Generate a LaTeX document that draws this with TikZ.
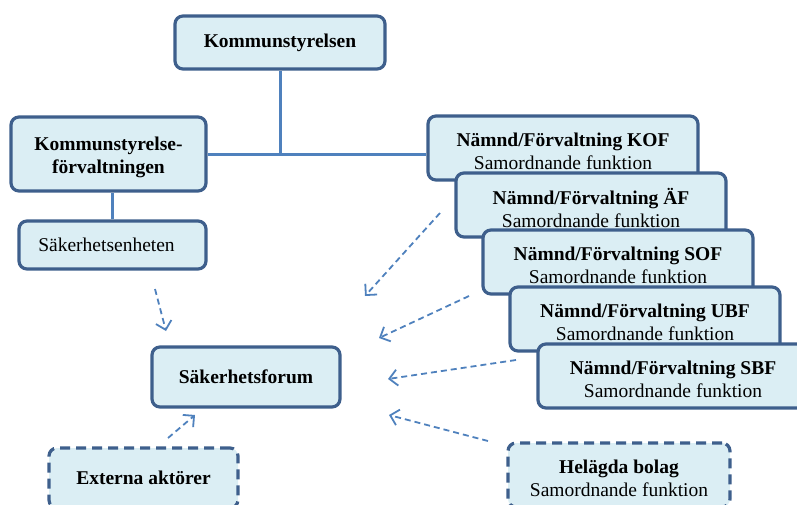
\documentclass[tikz,border=0pt]{standalone}
\usepackage{fontspec}
\setmainfont{Liberation Serif}
\usetikzlibrary{arrows.meta}
\definecolor{bordc}{RGB}{62,95,140}
\definecolor{fillc}{RGB}{219,238,244}
\definecolor{linec}{RGB}{79,129,189}
\tikzset{
  box/.style={draw=bordc, fill=fillc, line width=3.2pt, rounded corners=8pt,
    align=center, inner sep=0pt, font=\fontsize{19.5}{23}\selectfont},
  dbox/.style={box, dash pattern=on 10pt off 6pt},
  btxt/.style={align=center, inner sep=0pt, yshift=-3pt,
    font=\fontsize{19.5}{23}\selectfont},
  conn/.style={draw=linec, line width=3pt},
  darr/.style={draw=linec, line width=1.8pt, dash pattern=on 6pt off 4pt,
    -{Straight Barb[length=8pt,width=16pt,line width=1.8pt]}}
}
\begin{document}
\begin{tikzpicture}[x=1pt,y=-1pt]
\useasboundingbox (0,0) rectangle (797,504);
\clip (0,0) rectangle (797,504);
% boxes
\node[box, minimum width=210pt, minimum height=53pt] (ks) at (280,42.5) {\textbf{Kommunstyrelsen}};
\node[box, minimum width=195pt, minimum height=74pt,
  label={[btxt]center:{\textbf{Kommunstyrelse-}\\\textbf{förvaltningen}}}] (ksf) at (108.5,154) {};
\node[box, minimum width=187pt, minimum height=48pt] (sak) at (112.5,245) {\hspace*{-12pt}Säkerhetsenheten};
\node[box, minimum width=270pt, minimum height=64pt,
  label={[btxt]center:{\textbf{Nämnd/Förvaltning KOF}\\Samordnande funktion}}] (kof) at (563,148) {};
\node[box, minimum width=270pt, minimum height=64pt,
  label={[btxt]center:{\textbf{Nämnd/Förvaltning ÄF}\\Samordnande funktion}}] (af) at (591,205) {};
\node[box, minimum width=270pt, minimum height=64pt,
  label={[btxt]center:{\textbf{Nämnd/Förvaltning SOF}\\Samordnande funktion}}] (sof) at (618,262) {};
\node[box, minimum width=270pt, minimum height=64pt,
  label={[btxt]center:{\textbf{Nämnd/Förvaltning UBF}\\Samordnande funktion}}] (ubf) at (645,319) {};
\node[box, minimum width=270pt, minimum height=64pt,
  label={[btxt]center:{\textbf{Nämnd/Förvaltning SBF}\\Samordnande funktion}}] (sbf) at (673,376) {};
\node[box, minimum width=188pt, minimum height=60pt] (forum) at (246,377) {\textbf{Säkerhetsforum}};
\node[dbox, minimum width=189pt, minimum height=60pt] (ext) at (143.5,478) {\textbf{Externa aktörer}};
\node[dbox, minimum width=222pt, minimum height=64pt,
  label={[btxt]center:{\textbf{Helägda bolag}\\Samordnande funktion}}] (hel) at (619,475) {};
% solid connectors
\draw[conn] (ks.south) -- (ks.south |- ksf.east);
\draw[conn] (ksf.east) -- (ksf.east -| kof.west);
\draw[conn] (sak.north) -- (sak.north |- ksf.south);
% dashed arrow ends
\coordinate (a1s) at (155,289);
\coordinate (a1e) at (166,331);
\coordinate (a2s) at (168,438);
\coordinate (a2e) at (195,415);
\coordinate (a3s) at (440,213);
\coordinate (a3e) at (365,296);
\coordinate (a4s) at (469,296);
\coordinate (a4e) at (379,338);
\coordinate (a5s) at (516,360);
\coordinate (a5e) at (388,379);
\coordinate (a6s) at (488,441);
\coordinate (a6e) at (389,415);
\draw[darr] (a1s) -- (a1e);
\draw[darr] (a2s) -- (a2e);
\draw[darr] (a3s) -- (a3e);
\draw[darr] (a4s) -- (a4e);
\draw[darr] (a5s) -- (a5e);
\draw[darr] (a6s) -- (a6e);
\end{tikzpicture}
\end{document}
